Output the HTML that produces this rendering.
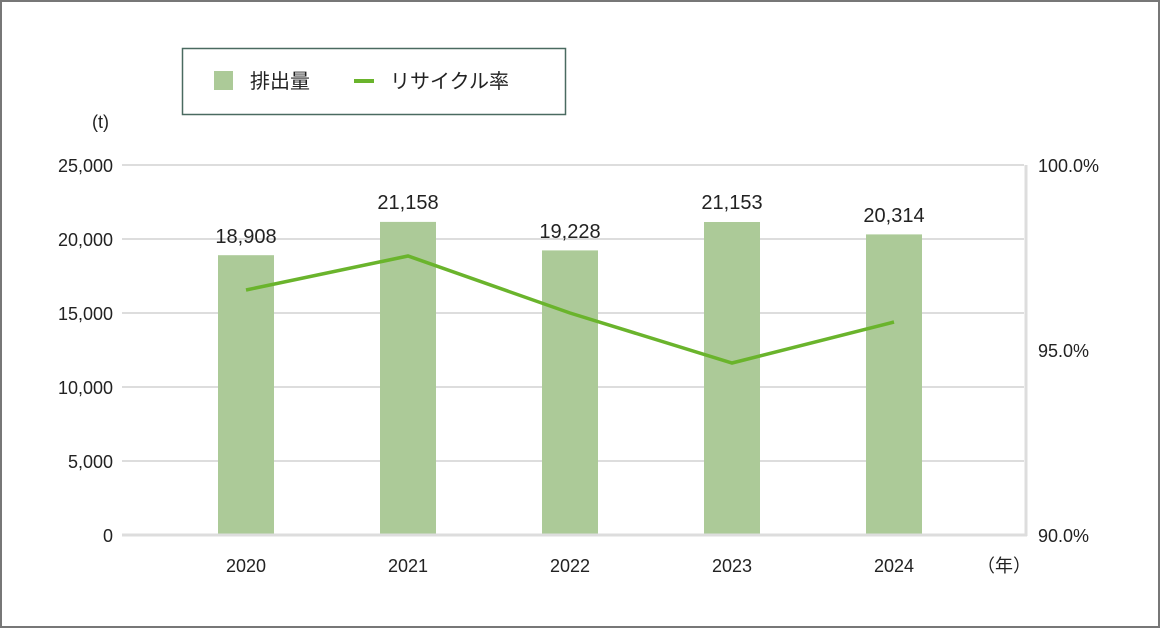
<!DOCTYPE html><html><head><meta charset="utf-8"><style>
body{margin:0;background:#fff}
svg{display:block}
text{font-family:"Liberation Sans","Noto Sans CJK JP",sans-serif;fill:#222}
</style></head><body>
<svg width="1160" height="628" viewBox="0 0 1160 628">
<rect x="1" y="1" width="1158" height="626" fill="#fff" stroke="#777" stroke-width="2"/>
<rect x="182.5" y="48.5" width="383" height="66" fill="#fff" stroke="#4a6a60" stroke-width="1.5"/>
<rect x="214" y="71" width="19" height="19" fill="#acca98"/>
<text x="250" y="88" font-size="20">排出量</text>
<line x1="354" y1="81" x2="374" y2="81" stroke="#6ab42c" stroke-width="4"/>
<text x="390" y="88" font-size="20">リサイクル率</text>
<text x="92" y="128" font-size="18">(t)</text>
<g stroke="#ddd" stroke-width="2">
<line x1="122" y1="165" x2="1024" y2="165"/>
<line x1="122" y1="239" x2="1024" y2="239"/>
<line x1="122" y1="313" x2="1024" y2="313"/>
<line x1="122" y1="387" x2="1024" y2="387"/>
<line x1="122" y1="461" x2="1024" y2="461"/>
</g>
<g font-size="18" text-anchor="end">
<text x="113" y="172">25,000</text>
<text x="113" y="246">20,000</text>
<text x="113" y="320">15,000</text>
<text x="113" y="394">10,000</text>
<text x="113" y="468">5,000</text>
<text x="113" y="542">0</text>
</g>
<g font-size="18">
<text x="1038" y="172">100.0%</text>
<text x="1038" y="357">95.0%</text>
<text x="1038" y="542">90.0%</text>
</g>
<g fill="#acca98">
<rect x="218" y="255.2" width="56" height="279.8"/>
<rect x="380" y="221.9" width="56" height="313.1"/>
<rect x="542" y="250.4" width="56" height="284.6"/>
<rect x="704" y="222" width="56" height="313"/>
<rect x="866" y="234.4" width="56" height="300.6"/>
</g>
<line x1="122" y1="535" x2="1027" y2="535" stroke="#ddd" stroke-width="3"/>
<line x1="1026" y1="165" x2="1026" y2="536" stroke="#ddd" stroke-width="3"/>
<polyline points="246,290 408,256 570,313 732,363 894,322" fill="none" stroke="#6ab42c" stroke-width="3.5"/>
<g font-size="20" text-anchor="middle">
<text x="246" y="243">18,908</text>
<text x="408" y="209">21,158</text>
<text x="570" y="238">19,228</text>
<text x="732" y="209">21,153</text>
<text x="894" y="222">20,314</text>
</g>
<g font-size="18" text-anchor="middle">
<text x="246" y="572">2020</text>
<text x="408" y="572">2021</text>
<text x="570" y="572">2022</text>
<text x="732" y="572">2023</text>
<text x="894" y="572">2024</text>
<text x="1004" y="572">（年）</text>
</g>
</svg></body></html>
